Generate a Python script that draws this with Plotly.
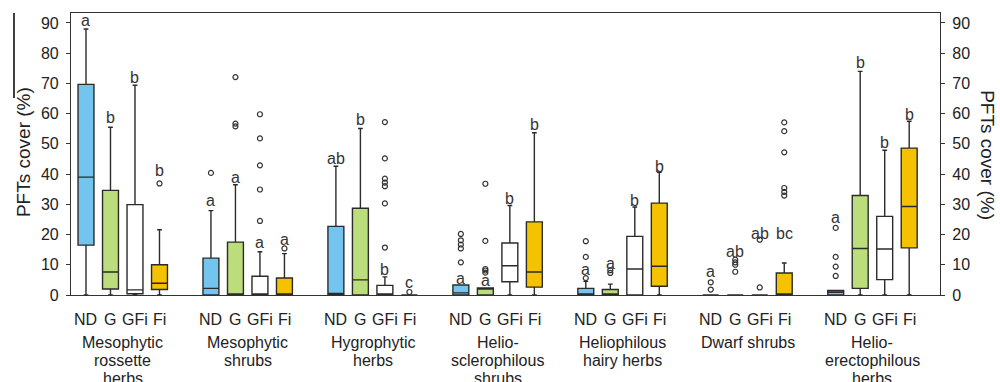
import plotly.graph_objects as go

# ---------------- data ----------------
groups = [
    ["Mesophytic", "rossette", "herbs"],
    ["Mesophytic", "shrubs"],
    ["Hygrophytic", "herbs"],
    ["Helio-", "sclerophilous", "shrubs"],
    ["Heliophilous", "hairy herbs"],
    ["Dwarf shrubs"],
    ["Helio-", "erectophilous", "herbs"],
]
treatments = ["ND", "G", "GFi", "Fi"]

# per group, values for ND, G, GFi, Fi
lower_fence = [
    [0, 0, 0, 0],
    [0, 0, 0, 0],
    [0, 0, 0, 0],
    [0, 0, 0, 0],
    [0, 0, 0, 0],
    [0, 0, 0, 0],
    [0, 0, 0, 0],
]
q1 = [
    [16.5, 2.0, 0.4, 1.8],
    [0, 0, 0, 0],
    [0, 0, 0, 0],
    [0, 0, 4.4, 2.6],
    [0, 0, 0, 2.9],
    [0, 0, 0, 0],
    [0, 2.2, 5.1, 15.6],
]
median = [
    [39.0, 7.6, 1.7, 3.9],
    [2.2, 0.3, 0, 0],
    [0.5, 5.0, 0, 0],
    [0.7, 2.0, 9.7, 7.6],
    [0, 0, 8.6, 9.5],
    [0, 0, 0, 0],
    [0.9, 15.4, 15.2, 29.3],
]
q3 = [
    [69.7, 34.6, 29.9, 10.0],
    [12.2, 17.5, 6.2, 5.6],
    [22.7, 28.7, 3.2, 0],
    [3.3, 2.3, 17.2, 24.2],
    [2.2, 1.8, 19.4, 30.4],
    [0, 0, 0, 7.3],
    [1.5, 32.9, 26.0, 48.6],
]
upper_fence = [
    [88.0, 55.5, 69.4, 21.6],
    [27.9, 36.5, 14.3, 13.7],
    [42.6, 55.1, 6.0, 0],
    [3.3, 2.3, 29.6, 53.7],
    [4.5, 3.6, 29.1, 40.6],
    [0, 0, 0, 10.6],
    [1.5, 74.0, 47.9, 57.5],
]
outliers = [
    [[], [], [], [36.9]],
    [[40.4], [72.1, 56.7, 55.8], [59.8, 51.8, 42.9, 34.9, 24.5], [15.4]],
    [[], [], [57.2, 45.2, 38.5, 37.2, 36.0, 30.3, 15.7], [1.0]],
    [[20.2, 18.1, 16.7, 15.4, 10.8], [36.8, 17.9, 8.6, 8.1, 7.4], [], []],
    [[17.8, 12.6, 5.6], [8.2, 7.3], [], []],
    [[4.2, 1.8], [11.7, 10.8, 10.0, 7.7], [18.3, 2.5], [57.1, 54.2, 47.2, 35.4, 34.1, 32.9]],
    [[22.2, 12.6, 9.4, 6.3], [], [], []],
]
letters = [
    ["a", "b", "b", "b"],
    ["a", "a", "a", "a"],
    ["ab", "b", "b", "c"],
    ["a", "a", "b", "b"],
    ["a", "a", "b", "b"],
    ["a", "ab", "ab", "bc"],
    ["a", "b", "b", "b"],
]
letter_y = [
    [90.9, 58.6, 71.8, 41.2],
    [31.2, 38.9, 17.4, 18.5],
    [45.3, 58.2, 8.6, 4.0],
    [5.6, 4.9, 31.8, 56.4],
    [8.4, 10.3, 31.3, 42.6],
    [7.8, 14.4, 20.5, 20.5],
    [25.5, 76.8, 50.3, 59.7],
]
y_ticks = [0, 10, 20, 30, 40, 50, 60, 70, 80, 90]

# ---------------- style ----------------
FONT = "Liberation Sans, Arial, sans-serif"
TXT = "#222222"
fills = ["#73C4EE", "#BBDD7B", "#FFFFFF", "#F5C200"]
GROUP_STEP = 5.1
BOX_W = 0.65

fig = go.Figure()
ann = []
ox, oy = [], []
for gi, glines in enumerate(groups):
    for ti, t in enumerate(treatments):
        x = gi * GROUP_STEP + ti
        fig.add_trace(go.Box(
            x=[x], q1=[q1[gi][ti]], median=[median[gi][ti]], q3=[q3[gi][ti]],
            lowerfence=[lower_fence[gi][ti]], upperfence=[upper_fence[gi][ti]],
            width=BOX_W, fillcolor=fills[ti], line=dict(color="#2b2b2b", width=1.4),
            whiskerwidth=0.3, boxpoints=False, showlegend=False, hoverinfo="skip",
        ))
        for v in outliers[gi][ti]:
            ox.append(x)
            oy.append(v)
        ann.append(dict(x=x, y=letter_y[gi][ti], xref="x", yref="y", text=letters[gi][ti],
                        showarrow=False, yanchor="middle", xanchor="center",
                        font=dict(family=FONT, size=16, color="#333333")))
        ann.append(dict(x=x, y=0, xref="x", yref="paper", text=t, showarrow=False,
                        yanchor="middle", xanchor="center", yshift=-24,
                        font=dict(family=FONT, size=16, color=TXT)))
    gc = gi * GROUP_STEP + 1.5
    for li, line in enumerate(glines):
        ann.append(dict(x=gc, y=0, xref="x", yref="paper", text=line, showarrow=False,
                        yanchor="middle", xanchor="center", yshift=-47 - 18 * li,
                        font=dict(family=FONT, size=16, color=TXT)))

fig.add_trace(go.Scatter(
    x=ox, y=oy, mode="markers", showlegend=False, hoverinfo="skip", cliponaxis=False,
    marker=dict(symbol="circle-open", size=5, color="#333333", line=dict(width=1.2)),
))
fig.add_trace(go.Scatter(x=[0], y=[0], yaxis="y2", mode="markers", showlegend=False,
                         hoverinfo="skip", marker=dict(opacity=0)))

ann.append(dict(x=-0.0552, y=0.507, xref="paper", yref="paper", text="PFTs cover (%)",
                textangle=-90, showarrow=False, xanchor="center", yanchor="middle",
                font=dict(family=FONT, size=19, color=TXT)))
ann.append(dict(x=1.0552, y=0.496, xref="paper", yref="paper", text="PFTs cover (%)",
                textangle=90, showarrow=False, xanchor="center", yanchor="middle",
                font=dict(family=FONT, size=19, color=TXT)))

yax = dict(range=[0, 93.3], tickvals=y_ticks, showline=True, linecolor="#333333",
           linewidth=1.2, ticks="outside", ticklen=4, tickcolor="#333333",
           showgrid=False, zeroline=False, ticklabelstandoff=4,
           tickfont=dict(family=FONT, size=16, color=TXT))

fig.update_layout(
    width=1000, height=382,
    margin=dict(l=71, r=60, t=13, b=87),
    paper_bgcolor="white", plot_bgcolor="white",
    boxmode="overlay",
    xaxis=dict(range=[-0.612, 34.857], showline=True, mirror=True, linecolor="#333333",
               linewidth=1.2, showticklabels=False, ticks="", showgrid=False, zeroline=False),
    yaxis=yax,
    yaxis2=dict(yax, overlaying="y", side="right"),
    annotations=ann,
    shapes=[dict(type="line", xref="paper", yref="paper", x0=-0.0656, x1=-0.0656,
                 y0=0.699, y1=1.0, line=dict(color="black", width=1.5))],
)

fig.write_html("out.html", config={"displayModeBar": False},
               post_script="document.body.style.margin='0';document.body.style.overflow='hidden';")
